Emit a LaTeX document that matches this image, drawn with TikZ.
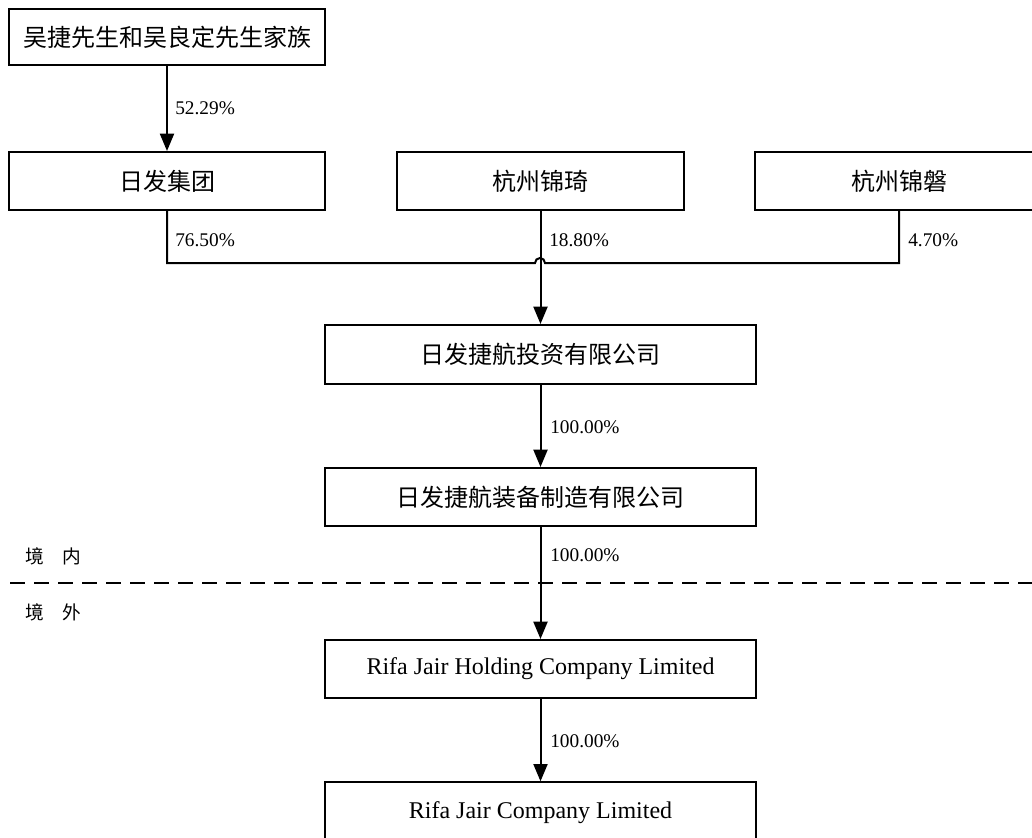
\documentclass[tikz,border=0pt]{standalone}
\usepackage{fontspec}
\setmainfont{Liberation Serif}
\newfontfamily\cjk{Noto Sans CJK SC}
\usetikzlibrary{arrows.meta}
\begin{document}
\begin{tikzpicture}[x=0.75pt,y=-0.75pt,
  box/.style={draw, line width=1.5pt, inner sep=0pt, font=\fontsize{18}{20}\selectfont},
  conn/.style={line width=1.5pt},
  arr/.style={line width=1.5pt, -{Triangle[length=13pt,width=10.5pt]}},
  pct/.style={anchor=west, inner sep=0pt, font=\fontsize{14.5}{16}\selectfont},
  zone/.style={anchor=west, inner sep=0pt, font=\cjk\fontsize{14}{16}\selectfont},
  border/.style={line width=1.5pt, dash pattern=on 11.25pt off 6.75pt}]
\useasboundingbox (0,0) rectangle (1032,838);
\fill[white] (0,0) rectangle (1032,838);

\node[box, minimum width=237pt, minimum height=42pt] (fam) at (167,37) {\cjk 吴捷先生和吴良定先生家族};
\node[box, minimum width=237pt, minimum height=43.5pt] (rf) at (167,181) {\cjk 日发集团};
\node[box, minimum width=215.25pt, minimum height=43.5pt] (jq) at (540.5,181) {\cjk 杭州锦琦};
\node[box, minimum width=216pt, minimum height=43.5pt] (jp) at (899,181) {\cjk 杭州锦磐};
\node[box, minimum width=323.25pt, minimum height=44.25pt] (inv) at (540.5,354.5) {\cjk 日发捷航投资有限公司};
\node[box, minimum width=323.25pt, minimum height=43.5pt] (mfg) at (540.5,497) {\cjk 日发捷航装备制造有限公司};
\node[box, minimum width=323.25pt, minimum height=43.5pt] (hold) at (540.5,669) {Rifa Jair Holding Company Limited};
\node[box, minimum width=323.25pt, minimum height=46pt] (rjc) at (540.5,813) {Rifa Jair Company Limited};

\draw[arr] (fam) -- (rf);

\coordinate (hl) at (167,263);
\coordinate (hr) at (899,263);
\coordinate (hopL) at (535,263);
\draw[conn] (rf.south) -- (hl) -- (hopL) arc[start angle=180, end angle=0, radius=3.75pt] -- (hr) -- (jp.south);
\draw[arr] (jq) -- (inv);
\draw[arr] (inv) -- (mfg);
\draw[arr] (mfg) -- (hold);
\draw[arr] (hold) -- (rjc);

\coordinate (dl) at (10,583);
\coordinate (dr) at (1040,583);
\draw[border] (dl) -- (dr);

\node[pct] (p1) at (175,108) {52.29\%};
\node[pct] (p2) at (175,240) {76.50\%};
\node[pct] (p3) at (549,240) {18.80\%};
\node[pct] (p4) at (908,240) {4.70\%};
\node[pct] (p5) at (550,427) {100.00\%};
\node[pct] (p6) at (550,555) {100.00\%};
\node[pct] (p7) at (550,741) {100.00\%};

\node[zone] (in) at (25,556) {境　内};
\node[zone] (out) at (25,612) {境　外};
\end{tikzpicture}
\end{document}
